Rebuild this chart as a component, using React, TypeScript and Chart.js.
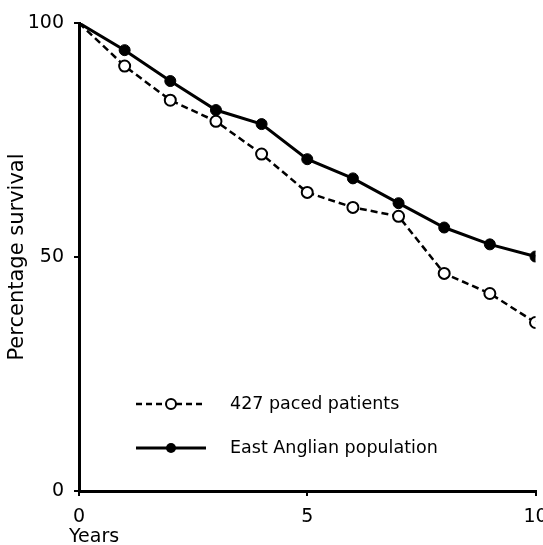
import React, { useEffect, useRef } from "react";
import { Chart, registerables } from "chart.js";

Chart.register(...registerables);

const years = [0, 1, 2, 3, 4, 5, 6, 7, 8, 9, 10];
const pacedPatients = [100, 90.8, 83.5, 79.0, 72.0, 63.8, 60.6, 58.7, 46.5, 42.2, 36.0];
const eastAnglian = [100, 94.2, 87.6, 81.4, 78.4, 70.9, 66.8, 61.5, 56.3, 52.7, 50.1];
const seriesLabels = ["427 paced patients", "East Anglian population"];
const yTitle = "Percentage survival";
const xTitle = "Years";

const FONT = "'DejaVu Sans', sans-serif";

const overlay = {
  id: "overlay",
  afterDraw(chart: any) {
    const ctx = chart.ctx;
    ctx.save();
    ctx.fillStyle = "#000";
    ctx.strokeStyle = "#000";
    // x title
    ctx.font = `19px ${FONT}`;
    ctx.textAlign = "left";
    ctx.textBaseline = "alphabetic";
    ctx.fillText(xTitle, 69, 542);
    // legend
    const rows = [
      { y: 404, dash: [6, 4], filled: false, lw: 2.5 },
      { y: 448, dash: [], filled: true, lw: 3 },
    ];
    rows.forEach((r, i) => {
      ctx.setLineDash(r.dash);
      ctx.lineWidth = r.lw;
      ctx.beginPath();
      ctx.moveTo(136, r.y);
      ctx.lineTo(206, r.y);
      ctx.stroke();
      ctx.setLineDash([]);
      ctx.beginPath();
      ctx.arc(171, r.y, 5, 0, Math.PI * 2);
      if (r.filled) {
        ctx.fill();
      } else {
        ctx.fillStyle = "#fff";
        ctx.fill();
        ctx.fillStyle = "#000";
        ctx.lineWidth = 2;
        ctx.stroke();
      }
      ctx.font = `17.5px ${FONT}`;
      ctx.textBaseline = "middle";
      ctx.fillText(seriesLabels[i], 230, r.y);
    });
    ctx.restore();
  },
};

export default function App() {
  const ref = useRef<HTMLCanvasElement>(null);
  useEffect(() => {
    if (!ref.current) return;
    const chart = new Chart(ref.current, {
      type: "line",
      data: {
        datasets: [
          {
            label: seriesLabels[0],
            data: years.map((x, i) => ({ x, y: pacedPatients[i] })),
            borderColor: "#000",
            borderWidth: 2.5,
            borderDash: [7, 4],
            pointRadius: years.map((x) => (x === 0 ? 0 : 5.5)),
            pointBackgroundColor: "#fff",
            pointBorderColor: "#000",
            pointBorderWidth: 2,
            tension: 0,
          },
          {
            label: seriesLabels[1],
            data: years.map((x, i) => ({ x, y: eastAnglian[i] })),
            borderColor: "#000",
            borderWidth: 3,
            pointRadius: years.map((x) => (x === 0 ? 0 : 5.5)),
            pointBackgroundColor: "#000",
            pointBorderColor: "#000",
            pointBorderWidth: 1,
            tension: 0,
          },
        ],
      },
      options: {
        responsive: false,
        animation: false,
        layout: { padding: { top: 23, right: 5, left: 0, bottom: 0 } },
        plugins: { legend: { display: false }, tooltip: { enabled: false } },
        scales: {
          x: {
            type: "linear",
            min: 0,
            max: 10,
            ticks: {
              stepSize: 5,
              color: "#000",
              font: { size: 19, family: FONT },
              padding: 10,
              maxRotation: 0,
            },
            grid: {
              drawOnChartArea: false,
              drawTicks: true,
              tickLength: 5,
              color: "#000",
              lineWidth: 2,
            },
            border: { display: true, color: "#000", width: 3 },
            afterFit(scale: any) {
              scale.height = 54;
              scale.paddingLeft = 0;
              scale.paddingRight = 0;
            },
          },
          y: {
            type: "linear",
            min: 0,
            max: 100,
            ticks: {
              stepSize: 50,
              color: "#000",
              font: { size: 19, family: FONT },
              padding: 10,
            },
            grid: {
              drawOnChartArea: false,
              drawTicks: true,
              tickLength: 5,
              color: "#000",
              lineWidth: 2,
            },
            border: { display: true, color: "#000", width: 3 },
            title: {
              display: true,
              text: yTitle,
              color: "#000",
              font: { size: 21, family: FONT },
              padding: { top: 5, bottom: 0 },
            },
            afterFit(scale: any) {
              scale.width = 79;
              scale.paddingTop = 0;
              scale.paddingBottom = 0;
            },
          },
        },
      },
      plugins: [overlay],
    });
    return () => chart.destroy();
  }, []);
  return (
    <div style={{ position: "absolute", left: 0, top: 0, width: 543, height: 545, background: "#fff" }}>
      <canvas ref={ref} width={543} height={545} />
    </div>
  );
}
